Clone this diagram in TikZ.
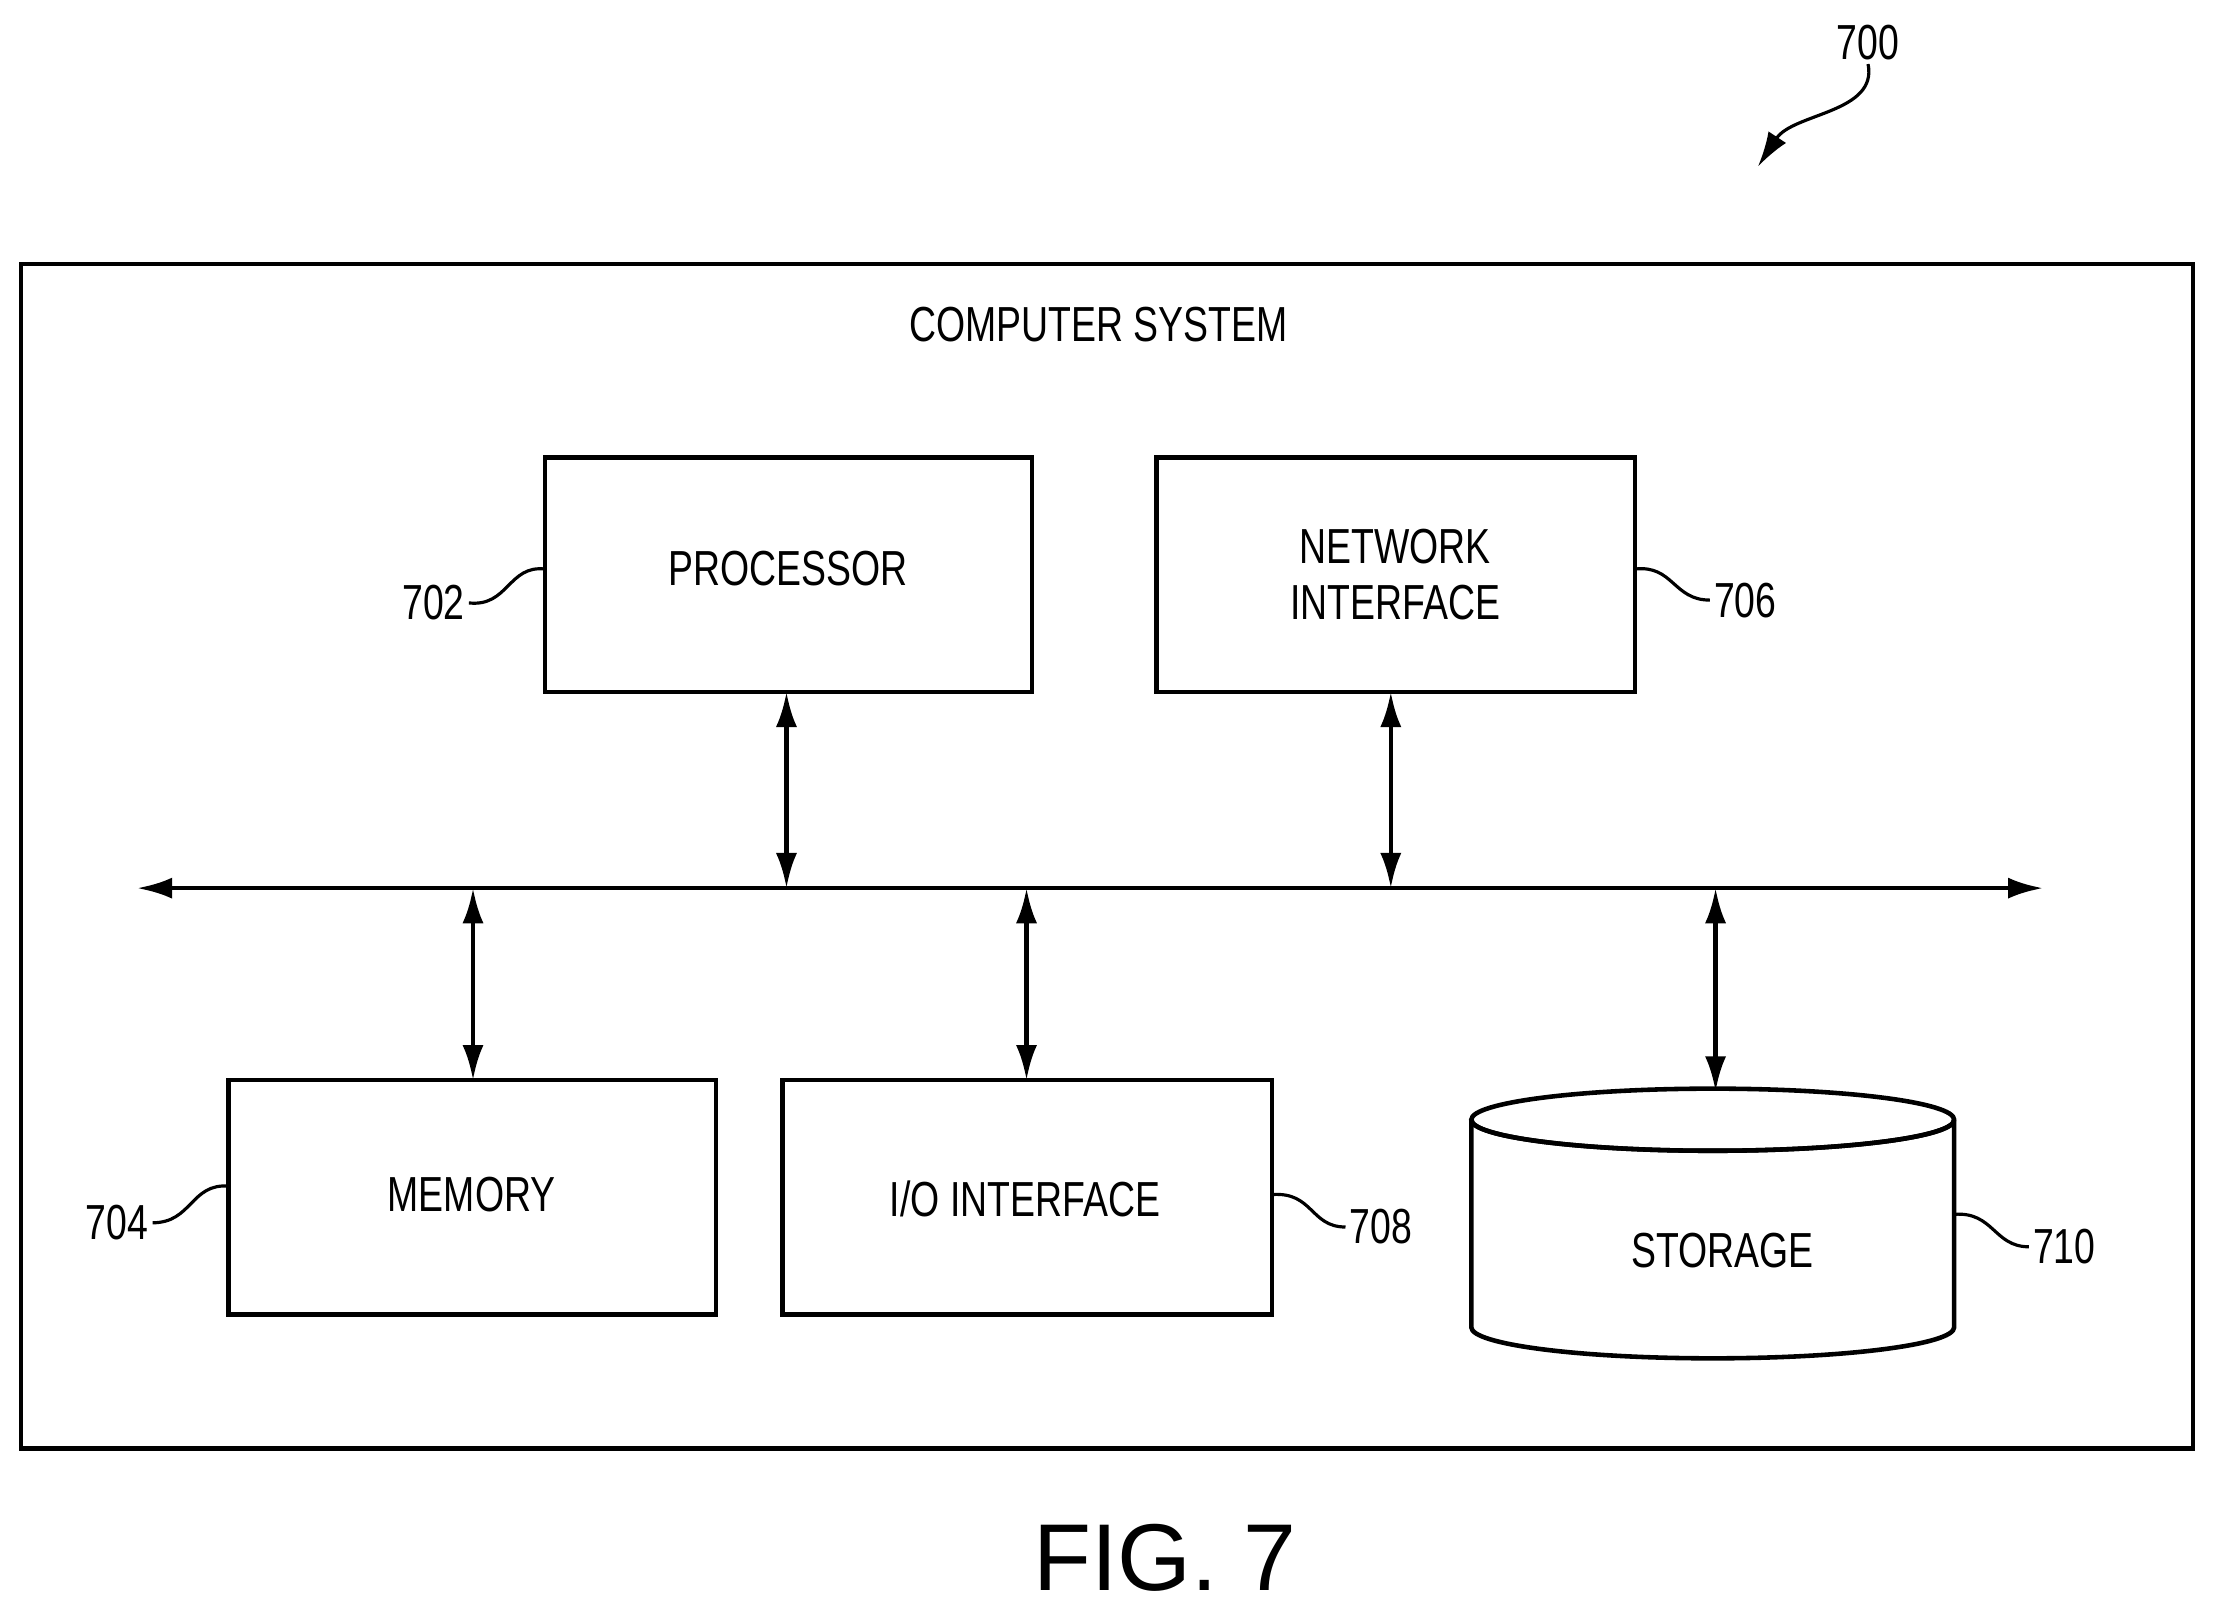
\documentclass[tikz,border=0pt]{standalone}
\usepackage{fontspec}
\setmainfont{Liberation Sans}
\newfontfamily\narrowfont[FakeStretch=0.76]{Liberation Sans}
\usetikzlibrary{arrows.meta}
\begin{document}
\begin{tikzpicture}[x=0.01412cm,y=-0.01412cm,
    blk/.style={draw,line width=1.3pt},
    txt/.style={font=\narrowfont\fontsize{14}{16}\selectfont,align=center,inner sep=1pt},
    busarr/.style={line width=1.3pt,{Latex[length=10pt,width=6pt]}-{Latex[length=10pt,width=6pt]}},
    lead/.style={line width=0.9pt}]

    \useasboundingbox (0,0) rectangle (1568,1143);
    \draw[blk] (15,187) rectangle (1553,1026);
    \node[txt] (sys) at (778,230) {COMPUTER SYSTEM};

    % blocks
    \draw[blk] (386,324) rectangle (731,490);
    \node[txt] (proc) at (558,403) {PROCESSOR};
    \draw[blk] (819,324) rectangle (1158,490);
    \node[txt] (net) at (988,407) {NETWORK\\INTERFACE};
    \draw[blk] (162,765) rectangle (507,931);
    \node[txt] (mem) at (334,846) {MEMORY};
    \draw[blk] (554,765) rectangle (901,931);
    \node[txt] (io) at (726,849) {I/O INTERFACE};

    % storage cylinder
    \draw[blk,fill=white] (1042,793) -- (1042,940) arc[start angle=180,end angle=360,x radius=171,y radius=-22]
      -- (1384,793) arc[start angle=0,end angle=360,x radius=171,y radius=-22];
    \draw[blk] (1042,793) arc[start angle=180,end angle=360,x radius=171,y radius=-22];
    \node[txt] (stor) at (1220,886) {STORAGE};

    % bus
    \coordinate (busL) at (97,629);
    \coordinate (busR) at (1447,629);
    \draw[busarr] (busL) -- (busR);
    \draw[busarr] (557,490) -- (557,629);
    \draw[busarr] (985,490) -- (985,629);
    \draw[busarr] (335,629) -- (335,765);
    \draw[busarr] (727,629) -- (727,765);
    \draw[busarr] (1215,629) -- (1215,773);

    % reference numerals
    \node[txt] (n702) at (307,427) {702};
    \draw[lead] (n702.east) .. controls (360,430) and (360,400) .. (386,403);
    \node[txt] (n706) at (1236,425) {706};
    \draw[lead] (n706.west) .. controls (1185,425) and (1185,400) .. (1158,403);
    \node[txt] (n704) at (83,866) {704};
    \draw[lead] (n704.east) .. controls (136,866) and (135,838) .. (162,840);
    \node[txt] (n708) at (978,869) {708};
    \draw[lead] (n708.west) .. controls (928,869) and (930,844) .. (901,846);
    \node[txt] (n710) at (1462,883) {710};
    \draw[lead] (n710.west) .. controls (1412,883) and (1412,858) .. (1384,860);
    \node[txt] (n700) at (1323,30) {700};
    \coordinate (tip700) at (1245,118);
    \draw[lead,-{Latex[length=10pt,width=6pt]}] (n700.south) .. controls (1330,80) and (1270,80) .. (tip700);

    \node[font=\fontsize{27}{30}\selectfont] (fig) at (825,1103) {FIG. 7};
\end{tikzpicture}
\end{document}
